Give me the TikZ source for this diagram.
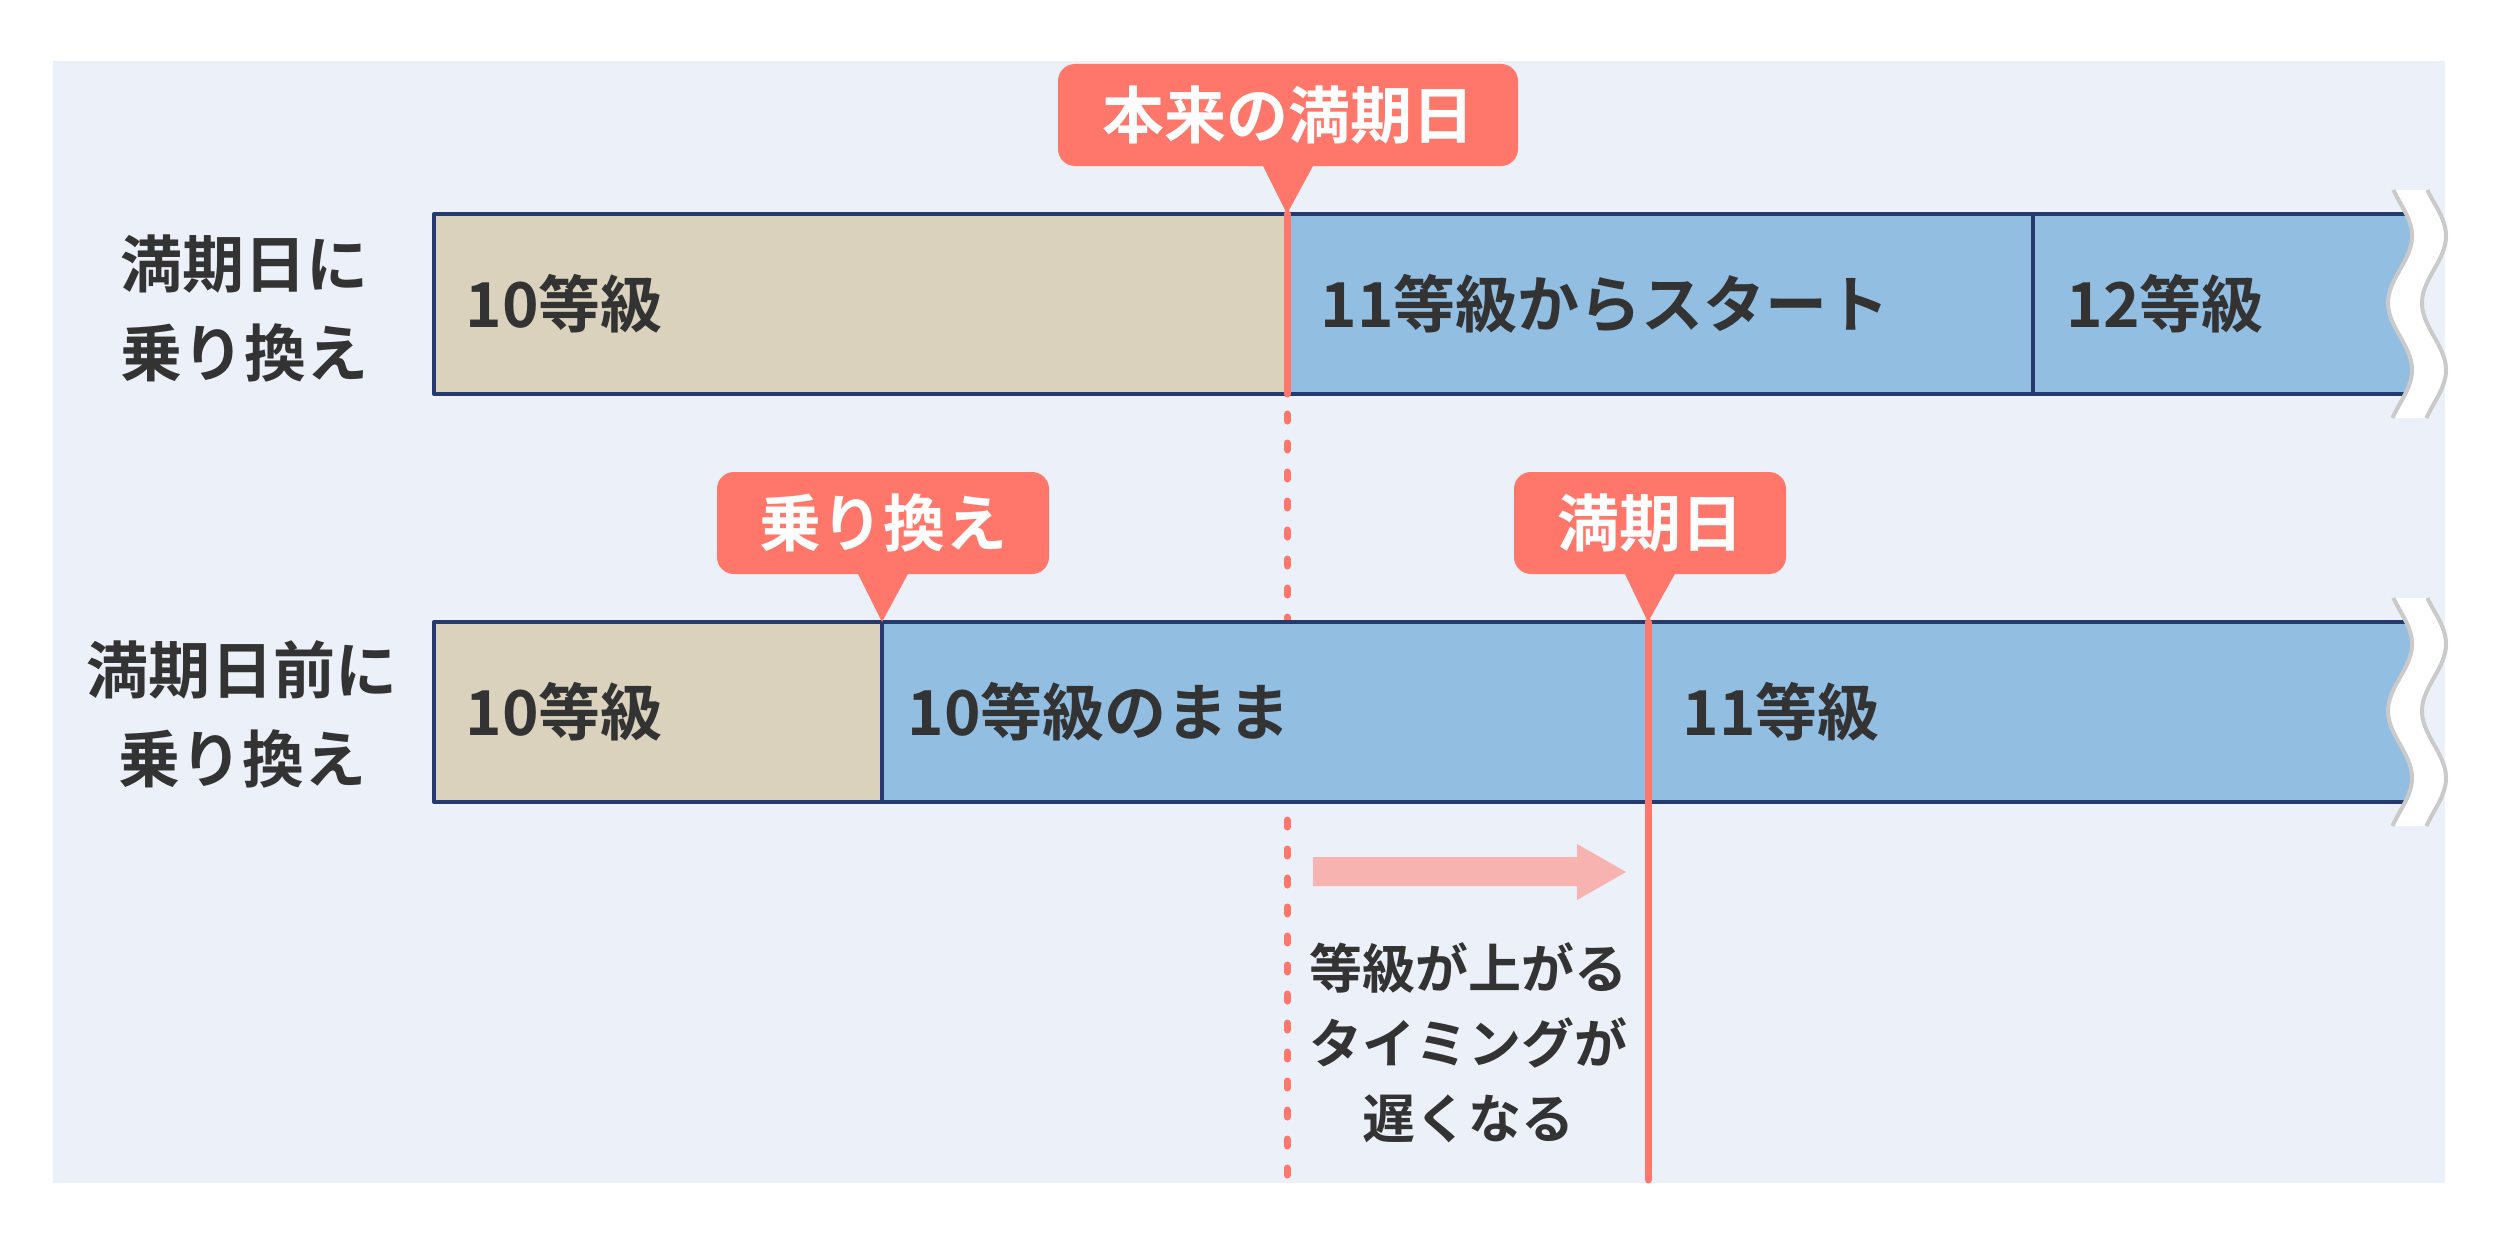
\documentclass[tikz,border=0pt]{standalone}
\usepackage{fontspec}
\setmainfont{Noto Sans CJK JP}[UprightFont=* Bold]
\definecolor{bgc}{HTML}{ECF0F9}
\definecolor{beige}{HTML}{DAD2BD}
\definecolor{bluec}{HTML}{92BEE2}
\definecolor{navy}{HTML}{263A6E}
\definecolor{redc}{HTML}{FF766B}
\definecolor{arrowc}{HTML}{F7B3B0}
\definecolor{txt}{HTML}{333333}
\definecolor{grayc}{HTML}{CACACA}
\newcommand\wavecut[1]{%
  \fill[white] plot[domain=190:418,samples=80,variable=\t] ({2400+12*cos((\t-236)*2.68657)},{\t+#1})
    -- plot[domain=418:190,samples=80,variable=\t] ({2434+12*cos((\t-236)*2.68657)},{\t+#1}) -- cycle;
  \draw[grayc,line width=1.6pt] plot[domain=190:418,samples=80,variable=\t] ({2400+12*cos((\t-236)*2.68657)},{\t+#1});
  \draw[grayc,line width=1.6pt] plot[domain=190:418,samples=80,variable=\t] ({2434+12*cos((\t-236)*2.68657)},{\t+#1});
}
\begin{document}
\begin{tikzpicture}[x=0.4pt,y=-0.4pt,line join=round,
  barlbl/.style={font=\fontsize{24.8}{30}\selectfont,text=txt,inner sep=0,anchor=west},
  sidelbl/.style={font=\fontsize{24.8}{35.6}\selectfont,text=txt,inner sep=0,align=center},
  notelbl/.style={font=\fontsize{21.2}{30}\selectfont,text=txt,inner sep=0,align=center},
  callout/.style={fill=redc,rounded corners=6.8pt,text=white,font=\fontsize{24.8}{30}\selectfont,inner sep=0},
  navyline/.style={navy,line width=1.6pt},
  redline/.style={redc,line width=2.8pt,line cap=round}]
\fill[white] (0,0) rectangle (2500,1246);
\fill[bgc] (53,61) rectangle (2445,1183);

% coordinates
\coordinate (d1top) at (1287,214);
\coordinate (d1bot) at (1287,394);
\coordinate (d1end) at (1287,1180);
\coordinate (m2end) at (1648,1180);

% dotted line of the original maturity date
\draw[redline,dash pattern=on 2.8pt off 8.8pt] ([yshift=-8pt]d1bot) -- (d1end);

% top bar
\fill[beige] (434,214) rectangle (1287,394);
\fill[bluec] (1287,214) rectangle (2420,394);
\draw[navyline] (2420,214) -- (434,214) -- (434,394) -- (2420,394);
\draw[navyline] (2033,214) -- (2033,394);
\wavecut{0}

% bottom bar
\fill[beige] (434,622) rectangle (882,802);
\fill[bluec] (882,622) rectangle (2420,802);
\draw[navyline] (2420,622) -- (434,622) -- (434,802) -- (2420,802);
\draw[navyline] (882,622) -- (882,802);
\wavecut{408}

% callouts
\node[callout,minimum width=184pt,minimum height=40.8pt] (c1) at (1288,115) {本来の満期日};
\fill[redc] ([xshift=-10.4pt,yshift=1pt]c1.south) -- ([xshift=10.4pt,yshift=1pt]c1.south) -- (d1top) -- cycle;
\node[callout,minimum width=132.8pt,minimum height=40.8pt] (c2) at (883,523) {乗り換え};
\coordinate (c2tip) at (882,622);
\fill[redc] ([xshift=-10.4pt,yshift=1pt]c2.south) -- ([xshift=10.4pt,yshift=1pt]c2.south) -- (c2tip) -- cycle;
\node[callout,minimum width=108.8pt,minimum height=40.8pt] (c3) at (1650,523) {満期日};
\coordinate (c3tip) at (1648,622);
\fill[redc] ([xshift=-10.4pt,yshift=1pt]c3.south) -- ([xshift=10.4pt,yshift=1pt]c3.south) -- (c3tip) -- cycle;

% red marker lines
\draw[redline] (d1top) -- (d1bot);
\draw[redline] (c3tip) -- (m2end);

% bar labels
\node[barlbl] (a1) at (465,304) {10等級};
\node[barlbl] (a2) at (1320,304) {11等級からスタート};
\node[barlbl] (a3) at (2066,304) {12等級};
\node[barlbl] (b1) at (465,712) {10等級};
\node[barlbl] (b2) at (907,712) {10等級のまま};
\node[barlbl] (b3) at (1682,712) {11等級};

% side labels
\node[sidelbl] (s1) at (244,308) {満期日に\\乗り換え};
\node[sidelbl] (s2) at (242,714) {満期日前に\\乗り換え};

% arrow
\fill[arrowc] (1313,857) -- (1577,857) -- (1577,844) -- (1626,872) -- (1577,900) -- (1577,886) -- (1313,886) -- cycle;
\node[notelbl] (n1) at (1468,1043) {等級が上がる\\タイミングが\\遅くなる};
\end{tikzpicture}
\end{document}
